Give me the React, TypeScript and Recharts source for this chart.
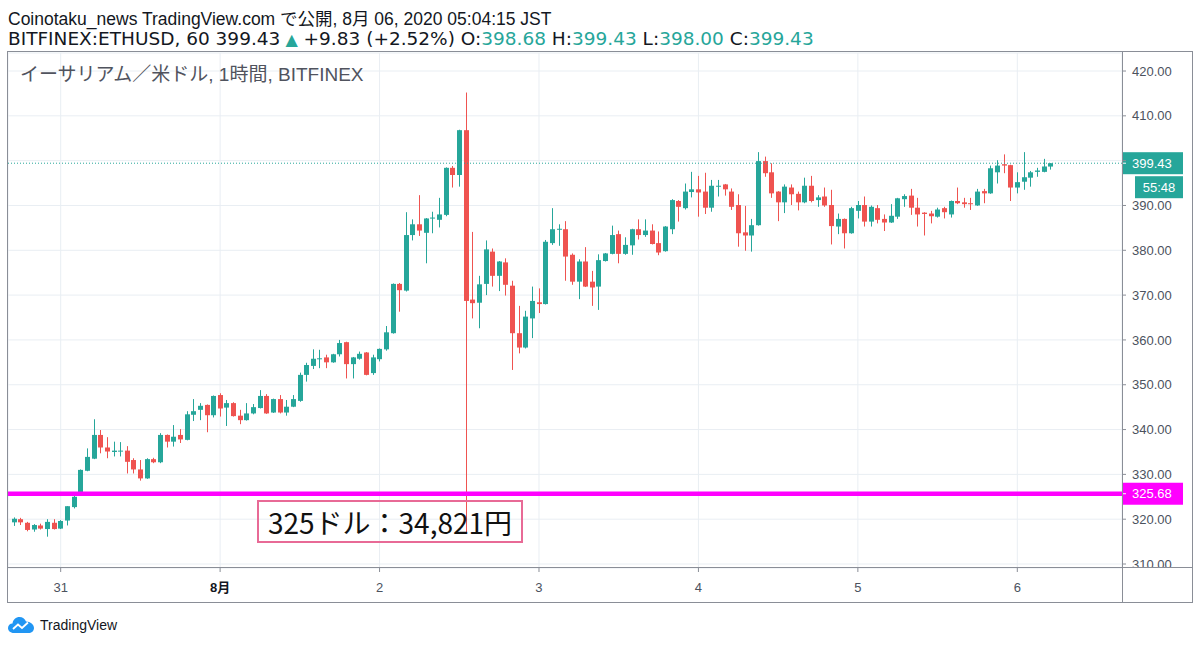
import { ComposedChart, Bar, XAxis, YAxis, CartesianGrid, ReferenceLine } from "recharts";

const UP = "#26a69a";
const DOWN = "#ef5350";
const AXIS_TEXT = "#4c525e";
const FRAME = "#8a8e97";
const FONT = "'Liberation Sans', Arial, 'Noto Sans CJK JP', sans-serif";

// ETHUSD 1h candles, Jul 30 17:00 -> Aug 6 05:00 JST
const opens = [
    319.3, 320.0, 319.2, 317.7, 318.6, 317.8, 319.2, 317.9, 319.7, 322.7,
    325.4, 330.8, 333.5, 338.8, 336.0, 335.0, 335.1, 335.3, 333.2, 331.1,
    329.1, 333.4, 332.7, 338.8, 337.3, 338.8, 337.7, 343.3, 344.4, 345.5,
    343.2, 347.7, 344.9, 345.9, 343.1, 342.1, 343.6, 344.8, 347.5, 343.8,
    346.8, 343.8, 345.1, 346.4, 352.2, 354.2, 355.7, 356.1, 355.0, 356.8,
    359.5, 354.6, 355.8, 357.2, 352.6, 355.7, 357.9, 361.5, 372.5, 371.0,
    383.4, 385.8, 383.9, 387.1, 386.8, 387.9, 398.4, 396.8, 406.8, 369.0,
    368.3, 372.5, 379.7, 374.3, 377.3, 372.1, 361.5, 358.3, 364.8, 368.4,
    368.0, 381.6, 384.6, 384.7, 379.0, 373.0, 377.5, 373.0, 371.9, 377.6,
    379.2, 383.6, 379.2, 381.1, 384.7, 383.4, 384.4, 381.6, 379.8, 384.7,
    391.0, 389.4, 393.0, 393.6, 393.1, 389.5, 394.3, 394.7, 393.1, 390.1,
    384.0, 383.3, 385.6, 399.9, 397.4, 393.1, 390.7, 394.0, 392.6, 390.7,
    394.4, 391.2, 392.0, 390.1, 385.3, 387.0, 383.8, 388.8, 390.1, 386.4,
    389.4, 387.0, 386.2, 387.5, 391.4, 392.2, 389.5, 388.4, 388.2, 387.5,
    389.4, 388.0, 391.0, 390.7, 390.5, 390.0, 393.2, 392.7, 397.4, 399.2,
    399.0, 394.0, 395.3, 396.2, 397.5, 397.5, 398.68,
];

const highs = [
    320.4, 320.3, 319.4, 318.9, 319.0, 320.0, 320.0, 319.8, 322.9, 325.2,
    331.1, 335.8, 342.3, 339.9, 338.3, 337.3, 337.2, 336.3, 333.6, 333.2,
    333.6, 333.7, 339.2, 338.9, 341.0, 340.1, 344.1, 346.8, 345.9, 345.6,
    347.6, 348.1, 346.6, 346.1, 344.4, 345.9, 345.7, 348.8, 347.9, 346.9,
    347.7, 346.6, 347.7, 352.7, 354.9, 357.9, 357.8, 356.7, 356.9, 360.0,
    359.6, 356.2, 357.4, 357.3, 356.7, 358.1, 363.1, 372.6, 372.7, 388.5,
    386.9, 392.3, 387.2, 388.6, 391.7, 398.5, 398.8, 406.9, 415.2, 384.1,
    374.3, 382.2, 380.4, 377.6, 378.2, 373.2, 367.6, 366.5, 371.9, 371.5,
    382.3, 389.4, 385.8, 386.5, 379.3, 378.0, 380.7, 375.4, 379.1, 379.4,
    385.5, 384.4, 382.9, 384.8, 386.9, 386.9, 385.8, 384.2, 385.4, 391.4,
    391.2, 394.9, 397.5, 396.6, 397.3, 395.7, 395.7, 394.8, 393.8, 392.5,
    389.9, 387.0, 401.9, 400.9, 399.4, 393.2, 394.7, 394.7, 393.1, 396.2,
    396.6, 392.3, 394.0, 393.5, 388.2, 387.1, 389.7, 391.0, 392.0, 390.0,
    390.1, 388.0, 390.3, 391.7, 392.5, 393.7, 391.7, 388.5, 388.8, 389.5,
    389.7, 391.1, 394.0, 391.7, 391.7, 393.7, 393.7, 398.9, 400.1, 401.4,
    399.1, 397.4, 401.9, 397.7, 398.4, 400.4, 399.43,
];

const lows = [
    318.5, 318.7, 317.3, 317.2, 317.7, 316.1, 317.7, 317.8, 318.6, 322.4,
    325.3, 330.7, 333.4, 334.7, 333.6, 334.0, 334.0, 330.2, 330.2, 328.6,
    329.0, 332.5, 332.5, 336.0, 336.2, 337.0, 337.6, 341.9, 342.1, 339.4,
    342.7, 342.9, 340.8, 342.9, 341.2, 342.0, 343.4, 344.7, 343.5, 343.7,
    343.6, 343.1, 345.0, 346.2, 350.7, 353.5, 353.7, 353.7, 354.9, 356.3,
    351.4, 351.4, 355.6, 352.1, 352.2, 355.2, 357.6, 361.4, 366.3, 370.8,
    382.2, 383.2, 377.1, 383.8, 385.1, 387.6, 394.0, 394.2, 317.0, 364.8,
    362.6, 370.0, 371.9, 370.9, 369.9, 353.3, 357.0, 358.1, 360.4, 366.0,
    367.9, 381.2, 381.0, 373.2, 372.3, 369.1, 371.8, 367.6, 366.7, 377.5,
    379.1, 377.1, 379.0, 379.0, 382.4, 383.0, 381.3, 378.9, 379.7, 383.6,
    386.4, 389.1, 391.8, 387.5, 388.1, 388.6, 392.0, 392.2, 389.0, 380.8,
    379.9, 379.7, 385.5, 396.4, 391.7, 386.5, 388.3, 390.1, 388.9, 390.5,
    390.7, 389.7, 389.7, 381.3, 383.6, 380.4, 383.7, 387.1, 385.3, 385.3,
    386.0, 384.3, 386.1, 387.0, 389.7, 387.9, 385.3, 383.3, 386.0, 387.3,
    387.1, 387.3, 390.3, 389.5, 389.0, 389.9, 390.5, 392.6, 394.9, 397.2,
    391.0, 392.7, 393.5, 394.2, 396.4, 397.4, 398.0,
];

const closes = [
    320.1, 319.3, 317.6, 318.7, 317.9, 319.4, 317.8, 319.6, 322.9, 325.0,
    331.0, 333.9, 338.8, 336.0, 335.1, 335.3, 335.3, 332.8, 331.1, 329.1,
    333.4, 332.7, 338.8, 337.3, 338.4, 337.8, 343.4, 344.1, 345.3, 343.2,
    347.5, 344.7, 345.9, 343.0, 342.1, 343.6, 345.0, 347.5, 343.6, 346.8,
    343.8, 345.1, 346.8, 352.2, 354.4, 355.8, 355.9, 355.0, 356.8, 359.3,
    354.6, 356.1, 356.9, 352.2, 356.1, 358.0, 361.7, 372.5, 371.1, 383.4,
    385.8, 384.4, 387.1, 387.3, 388.0, 398.4, 396.8, 406.8, 368.7, 368.2,
    372.4, 380.2, 374.3, 377.5, 372.3, 361.5, 358.3, 365.2, 368.7, 368.0,
    381.9, 384.7, 384.8, 378.6, 373.0, 377.5, 371.9, 371.7, 377.8, 379.3,
    383.4, 379.2, 381.2, 384.7, 383.4, 384.4, 381.4, 379.5, 385.3, 391.2,
    389.7, 393.1, 393.6, 392.9, 389.5, 394.4, 394.4, 393.6, 389.7, 383.8,
    383.3, 385.6, 399.9, 397.2, 392.7, 390.7, 394.2, 392.5, 390.7, 394.4,
    391.0, 391.8, 390.0, 385.4, 387.0, 383.8, 389.4, 390.1, 386.4, 389.7,
    386.8, 386.2, 387.7, 391.6, 392.1, 389.5, 388.0, 388.1, 387.6, 389.1,
    388.5, 391.0, 390.5, 390.3, 390.3, 393.1, 392.7, 398.3, 398.9, 398.9,
    394.0, 395.2, 396.3, 397.4, 397.8, 398.7, 399.43,
];

// day boundaries (candle index) and their labels
const dayTicks = [7, 31, 55, 79, 103, 127, 151];
const dayLabels = ["31", "8月", "2", "3", "4", "5", "6"];
const priceTicks = [310, 320, 330, 340, 350, 360, 370, 380, 390, 400, 410, 420];

const lastPrice = 399.43;
const markPrice = 325.68;
const countdown = "55:48";

const data = opens.map((open, i) => ({
    i,
    open,
    close: closes[i],
    high: highs[i],
    low: lows[i],
    range: [lows[i], highs[i]],
}));

const Candle = (props: any) => {
    const { x, y, width, height, payload } = props;
    if (!payload) return null;
    const top = Math.min(y, y + height);
    const h = Math.abs(height);
    const { open, close, high, low } = payload;
    const k = high > low ? h / (high - low) : 0;
    const yOf = (v: number) => top + (high - v) * k;
    const color = close >= open ? UP : DOWN;
    const bx = Math.round(x);
    const cx = bx + 2.5;
    const bTop = yOf(Math.max(open, close));
    const bH = Math.max(1, yOf(Math.min(open, close)) - bTop);
    return (
        <g>
            <line x1={cx} x2={cx} y1={top} y2={top + h} stroke={color} strokeWidth={1} />
            <rect x={bx} y={bTop} width={5} height={bH} fill={color} />
        </g>
    );
};

const DayTick = ({ x, y, payload }: any) => {
    const idx = dayTicks.indexOf(payload.value);
    return (
        <text
            x={x}
            y={y}
            dy="0.35em"
            textAnchor="middle"
            fontSize={13}
            fill={idx === 1 ? "#131722" : AXIS_TEXT}
            fontWeight={idx === 1 ? 700 : 400}
        >
            {dayLabels[idx]}
        </text>
    );
};

const PriceTag = ({ viewBox, price, color, timer }: any) => {
    const x = viewBox.x + viewBox.width;
    const y = viewBox.y;
    return (
        <g>
            <rect x={x} y={y - 11} width={61} height={22} fill={color} />
            <line x1={x} x2={x + 4} y1={y} y2={y} stroke="#fff" />
            <text x={x + 10} y={y} dy="0.36em" fill="#fff" fontSize={13}>
                {price.toFixed(2)}
            </text>
            {timer && (
                <>
                    <rect x={x + 13} y={y + 13} width={48} height={22} fill={color} />
                    <text x={x + 37} y={y + 24} dy="0.36em" textAnchor="middle" fill="#fff" fontSize={13}>
                        {timer}
                    </text>
                </>
            )}
        </g>
    );
};

const Logo = () => (
    <svg width="26" height="18" viewBox="0 0 26 18">
        <path
            d="M6 17 C2 17 0 14.5 0 12 C0 9.5 2 7.5 4.5 7.5 C5 3.5 8 1 11.5 1 C14.5 1 17 3 18 5.5 C22.5 5.5 26 8.5 26 12 C26 15 23.5 17 20.5 17 Z"
            fill="#2196f3"
        />
        <polyline points="5,13 10,8.5 14,12 20,6.5" fill="none" stroke="#fff" strokeWidth="1.8" />
    </svg>
);

export default function App() {
    return (
        <div
            style={{
                position: "absolute",
                left: 0,
                top: 0,
                width: 1200,
                height: 647,
                background: "#fff",
                fontFamily: FONT,
                color: "#131722",
                overflow: "hidden",
            }}
        >
            <div style={{ position: "absolute", left: 8, top: 9, fontSize: 17.5, lineHeight: "20px", whiteSpace: "nowrap" }}>
                Coinotaku_news TradingView.com で公開, 8月 06, 2020 05:04:15 JST
            </div>
            <div
                style={{
                    position: "absolute",
                    left: 8,
                    top: 29,
                    fontSize: 18.5,
                    lineHeight: "20px",
                    whiteSpace: "nowrap",
                    fontFamily: "'DejaVu Sans', sans-serif",
                }}
            >
                BITFINEX:ETHUSD, 60 399.43<span style={{ color: UP, fontSize: 16 }}> ▲</span> +9.83 (+2.52%) O:
                <span style={{ color: UP }}>398.68</span> H:<span style={{ color: UP }}>399.43</span> L:
                <span style={{ color: UP }}>398.00</span> C:<span style={{ color: UP }}>399.43</span>
            </div>

            <div style={{ position: "absolute", left: 8, top: 52 }}>
                <ComposedChart width={1184} height={550} data={data} margin={{ top: 1, right: 0, bottom: 0, left: 0 }}>
                    <CartesianGrid stroke="#e9eef3" />
                    <XAxis
                        type="number"
                        dataKey="i"
                        domain={[-0.93, 166.76]}
                        allowDataOverflow
                        ticks={dayTicks}
                        interval={0}
                        tick={<DayTick />}
                        tickSize={4}
                        tickMargin={15}
                        tickLine={{ stroke: FRAME }}
                        axisLine={false}
                        height={34}
                    />
                    <YAxis
                        orientation="right"
                        width={70}
                        domain={[309.11, 424.02]}
                        allowDataOverflow
                        ticks={priceTicks}
                        interval={0}
                        // the tick hidden behind the last-price tag
                        tickFormatter={(v: number) => (Math.abs(v - lastPrice) < 3 ? "" : v.toFixed(2))}
                        tick={{ fill: AXIS_TEXT, fontSize: 13 }}
                        tickSize={4}
                        tickMargin={6}
                        tickLine={{ stroke: FRAME }}
                        axisLine={false}
                    />
                    <Bar dataKey="range" barSize={5} shape={(p: any) => <Candle {...p} />} isAnimationActive={false} />
                    <ReferenceLine
                        y={lastPrice}
                        stroke={UP}
                        strokeDasharray="1 2"
                        label={(p: any) => <PriceTag {...p} price={lastPrice} color={UP} timer={countdown} />}
                    />
                    <ReferenceLine
                        y={markPrice}
                        stroke="#ff00ff"
                        strokeWidth={4.5}
                        label={(p: any) => <PriceTag {...p} price={markPrice} color="#ff00ff" />}
                    />
                </ComposedChart>
            </div>

            {/* frame */}
            <div style={{ position: "absolute", left: 7, top: 51, width: 1186, height: 552, border: `1px solid ${FRAME}`, boxSizing: "border-box" }} />
            <div style={{ position: "absolute", left: 1123, top: 568, width: 69, height: 34, background: "#fff" }} />
            <div style={{ position: "absolute", left: 8, top: 567, width: 1184, height: 1, background: FRAME }} />
            <div style={{ position: "absolute", left: 1122, top: 52, width: 1, height: 550, background: FRAME }} />

            <div style={{ position: "absolute", left: 20, top: 65, fontSize: 19, lineHeight: "20px", color: "#50535e", whiteSpace: "nowrap" }}>
                イーサリアム／米ドル, 1時間, BITFINEX
            </div>

            <div
                style={{
                    position: "absolute",
                    left: 257,
                    top: 500,
                    width: 266,
                    height: 43,
                    border: "2px solid #e86a96",
                    boxSizing: "border-box",
                    display: "flex",
                    alignItems: "center",
                    justifyContent: "center",
                    fontFamily: "'Noto Sans CJK JP', sans-serif",
                    fontSize: 28,
                    color: "#111",
                    whiteSpace: "nowrap",
                }}
            >
                325ドル：34,821円
            </div>

            <div style={{ position: "absolute", left: 8, top: 616, display: "flex", alignItems: "center", gap: 6 }}>
                <Logo />
                <span style={{ fontSize: 14, color: "#131722" }}>TradingView</span>
            </div>
        </div>
    );
}
